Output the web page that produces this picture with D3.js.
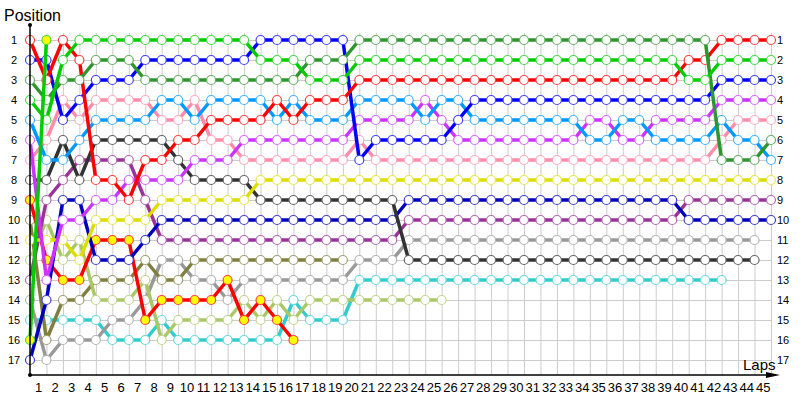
<!DOCTYPE html>
<html>
<head>
<meta charset="utf-8">
<script src="https://cdn.jsdelivr.net/npm/d3@7"></script>
<style>
  body { margin: 0; background: #fff; }
  svg { font-family: "Liberation Sans", Arial, sans-serif; }
</style>
</head>
<body>
<svg id="chart" width="800" height="400"></svg>
<script>
// positions per lap, index 0 = grid
const redPos = [1,3,1,2,8,8,9,7,7,6, 6,5,5,5,5,4,5,4,4,4, 3,3,3,3,3,3,3,3,3,3, 3,3,3,3,3,3,3,3,3,3, 2,2,1,1,1,1];
const greenPos = [4,5,2,1,1,1,1,1,1,1, 1,1,1,1,2,2,2,3,3,3, 2,2,2,2,2,2,2,2,2,2, 2,2,2,2,2,2,2,2,2,2, 3,3,2,2,2,2];
const darkGreenPos = [3,4,3,3,2,2,2,3,3,3, 3,3,3,3,3,3,3,2,2,2, 1,1,1,1,1,1,1,1,1,1, 1,1,1,1,1,1,1,1,1,1, 1,1,7,7,7,6];
const bluePos = [2,2,5,4,3,3,3,2,2,2, 2,2,2,2,1,1,1,1,1,1, 7,6,6,6,6,6,5,4,4,4, 4,4,4,4,4,4,4,4,4,4, 4,4,3,3,3,3];
const skyPos = [5,7,7,6,5,5,5,5,4,4, 5,4,4,4,4,5,4,5,5,5, 4,4,4,4,5,4,4,5,5,5, 5,5,5,5,6,6,5,5,6,6, 6,6,5,6,6,7];
const violetPos = [6,13,10,10,9,9,8,8,8,8, 7,7,7,6,6,6,6,6,6,6, 5,5,5,5,4,5,6,6,6,6, 6,6,6,6,5,5,6,6,5,5, 5,5,4,4,4,4];
const pinkPos = [7,6,4,5,4,4,4,4,5,5, 4,6,6,7,7,7,7,7,7,7, 6,7,7,7,7,7,7,7,7,7, 7,7,7,7,7,7,7,7,7,7, 7,7,6,5,5,5];
const darkGrayPos = [8,8,6,8,6,6,6,6,6,7, 8,8,8,8,9,9,9,9,9,9, 9,9,9,12,12,12,12,12,12,12, 12,12,12,12,12,12,12,12,12,12, 12,12,12,12,12];
const redYellowPos = [9,12,13,13,11,11,11,15,14,14, 14,14,13,15,14,15,16];
const olivePos = [10,16,14,14,13,13,13,12,13,13, 12,12,12,12,12,12,12,12,12,12];
const yellowPos = [11,11,11,12,10,10,10,10,9,9, 9,9,9,9,8,8,8,8,8,8, 8,8,8,8,8,8,8,8,8,8, 8,8,8,8,8,8,8,8,8,8, 8,8,8,8,8,8];
const limePos = [12,10,12,11,14,14,14,13,16,15, 15,15,15,14,15,14,15,14,14,14, 14,14,14,14,14,14];
const purplePos = [13,9,8,7,7,7,7,9,11,11, 11,11,11,11,11,11,11,11,11,11, 11,11,11,10,10,10,10,10,10,10, 10,10,10,10,10,10,10,10,10,10, 9,9,9,9,9,9];
const grayPos = [14,17,16,16,16,15,15,14,12,12, 13,13,14,13,13,13,13,13,13,13, 12,12,12,11,11,11,11,11,11,11, 11,11,11,11,11,11,11,11,11,11, 11,11,11,11,11];
const cyanPos = [15,15,15,15,15,16,16,16,15,16, 16,16,16,16,16,16,14,15,15,15, 13,13,13,13,13,13,13,13,13,13, 13,13,13,13,13,13,13,13,13,13, 13,13,13];
const greenYellowPos = [16,1];
const navyPos = [17,14,9,9,12,12,12,11,10,10, 10,10,10,10,10,10,10,10,10,10, 10,10,10,9,9,9,9,9,9,9, 9,9,9,9,9,9,9,9,9,9, 10,10,10,10,10,10];

const lapTicks = [1,2,3,4,5,6,7,8,9,10,11,12,13,14,15,16,17,18,19,20,21,22,23,24,25,26,27,28,29,30,31,32,33,34,35,36,37,38,39,40,41,42,43,44,45];
const posTicks = [1,2,3,4,5,6,7,8,9,10,11,12,13,14,15,16,17];

const drivers = [
  {pos: cyanPos, color: "#33cccc", fill: "#fff"},
  {pos: grayPos, color: "#999999", fill: "#fff"},
  {pos: olivePos, color: "#7f7f3f", fill: "#fff"},
  {pos: limePos, color: "#aac866", fill: "#fff"},
  {pos: redYellowPos, color: "#ff0000", fill: "#ffff00"},
  {pos: purplePos, color: "#993399", fill: "#fff"},
  {pos: navyPos, color: "#0000bb", fill: "#fff"},
  {pos: darkGrayPos, color: "#333333", fill: "#fff"},
  {pos: yellowPos, color: "#dddd00", fill: "#fff"},
  {pos: pinkPos, color: "#ff8caa", fill: "#fff"},
  {pos: violetPos, color: "#cc33ff", fill: "#fff"},
  {pos: skyPos, color: "#0099ff", fill: "#fff"},
  {pos: bluePos, color: "#0000ff", fill: "#fff"},
  {pos: redPos, color: "#ff0000", fill: "#fff"},
  {pos: darkGreenPos, color: "#2e962e", fill: "#fff"},
  {pos: greenPos, color: "#00cc00", fill: "#fff"},
  {pos: greenYellowPos, color: "#00cc00", fill: "#ffff00"}
];

const x = d3.scaleLinear().domain([0, 45]).range([30, 771]);
const y = d3.scaleLinear().domain([1, 17]).range([40, 360]);
const step = x(1) - x(0);

const svg = d3.select("#chart");

// grid
const grid = svg.append("g").attr("stroke", "#cccccc").attr("stroke-width", 1);
grid.selectAll("line.v").data(lapTicks).enter().append("line")
  .attr("x1", (d) => x(d) + 0.5).attr("x2", (d) => x(d) + 0.5)
  .attr("y1", 33).attr("y2", 375);
grid.selectAll("line.h").data(posTicks).enter().append("line")
  .attr("x1", x(0)).attr("x2", x(45))
  .attr("y1", (d) => y(d) + 0.5).attr("y2", (d) => y(d) + 0.5);

// drivers
const line = d3.line().x((d, i) => x(i)).y((d) => y(d));
const series = svg.append("g").selectAll("g.driver")
  .data(drivers).enter().append("g").attr("class", "driver");
series.append("path")
  .attr("d", (d) => line(d.pos))
  .attr("fill", "none")
  .attr("stroke", (d) => d.color)
  .attr("stroke-width", 3.5)
  .attr("stroke-linejoin", "round");
series.each(function(drv) {
  d3.select(this).selectAll("circle")
    .data(drv.pos).enter().append("circle")
    .attr("cx", (d, i) => x(i))
    .attr("cy", (d) => y(d))
    .attr("r", 4.5)
    .attr("fill", drv.fill)
    .attr("stroke", d3.interpolateRgb(drv.color, "#ffffff")(0.25))
    .attr("stroke-width", 1.2);
});

// axes
svg.append("line").attr("x1", 30).attr("x2", 30).attr("y1", 25).attr("y2", 375)
  .attr("stroke", "#000").attr("stroke-width", 1.5);
svg.append("line").attr("x1", 30).attr("x2", 767).attr("y1", 375).attr("y2", 375)
  .attr("stroke", "#000").attr("stroke-width", 1.5);
svg.append("path").attr("d", "M766,372L780,375L766,378Z").attr("fill", "#000");
svg.append("circle").attr("cx", 30).attr("cy", 25).attr("r", 2).attr("fill", "#000");
svg.append("circle").attr("cx", 30).attr("cy", 375).attr("r", 2).attr("fill", "#000");

const xAxis = svg.append("g").attr("transform", "translate(0,375)")
  .call(d3.axisBottom(x).tickValues(lapTicks).tickSize(0).tickPadding(8));
xAxis.select(".domain").remove();
xAxis.selectAll("text")
  .attr("x", -step / 2)
  .attr("font-size", 13).attr("font-family", "Liberation Sans, Arial, sans-serif")
  .attr("fill", "#000");

const yLeft = svg.append("g").attr("transform", "translate(30,0)")
  .call(d3.axisLeft(y).tickValues(posTicks).tickSize(0));
yLeft.select(".domain").remove();
yLeft.selectAll("text")
  .attr("x", -16).attr("text-anchor", "middle")
  .attr("font-size", 11).attr("font-family", "Liberation Sans, Arial, sans-serif")
  .attr("fill", "#000");

const yRight = svg.append("g").attr("transform", `translate(${x(45)},0)`)
  .call(d3.axisRight(y).tickValues(posTicks).tickSize(0).tickPadding(6));
yRight.select(".domain").remove();
yRight.selectAll("text")
  .attr("font-size", 11).attr("font-family", "Liberation Sans, Arial, sans-serif")
  .attr("fill", "#000");

svg.append("text").attr("x", 4).attr("y", 21)
  .attr("font-size", 16).attr("fill", "#000").text("Position");
svg.append("text").attr("x", 743).attr("y", 370)
  .attr("font-size", 15).attr("fill", "#000").text("Laps");
</script>
</body>
</html>
